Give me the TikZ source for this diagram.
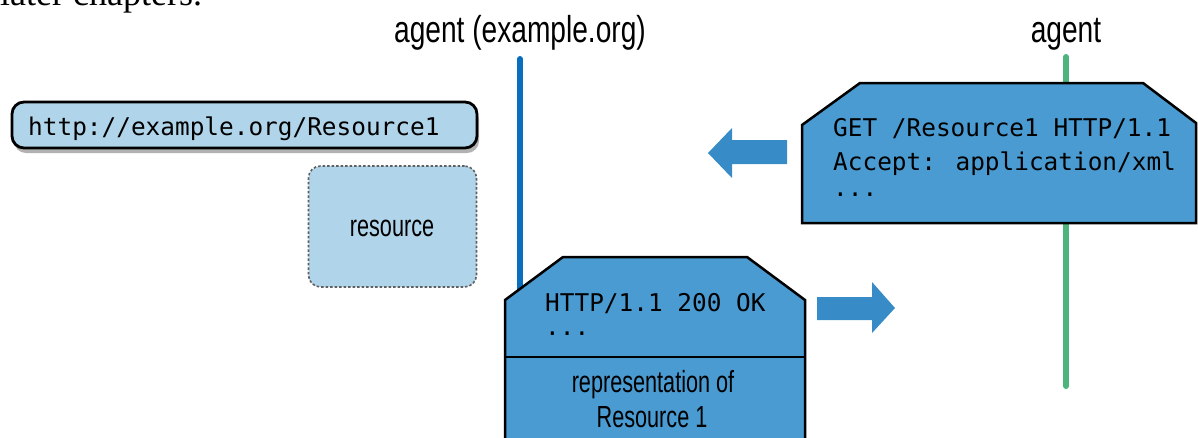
\documentclass[tikz,border=0pt]{standalone}
\usepackage{fontspec}
\setmainfont{Liberation Serif}
\newfontfamily\condlabel[FakeStretch=0.75]{Liberation Sans}
\newfontfamily\condbox[FakeStretch=0.71]{Liberation Sans}
\newfontfamily\monofnt{DejaVu Sans Mono}
\usetikzlibrary{shadows}
\definecolor{boxblue}{RGB}{74,155,209}
\definecolor{arrowblue}{RGB}{55,140,200}
\definecolor{lightblue}{RGB}{176,212,234}
\definecolor{lifeblue}{RGB}{10,110,190}
\definecolor{lifegreen}{RGB}{77,180,125}
\definecolor{dashgray}{RGB}{95,95,95}
\tikzset{
  label/.style={inner sep=0pt, anchor=base, font=\condlabel\fontsize{37.5}{42}\selectfont},
  boxtext/.style={inner sep=0pt, anchor=base, font=\condbox\fontsize{30.5}{36}\selectfont},
  mono/.style={inner sep=0pt, anchor=base west, font=\monofnt\fontsize{24.4}{30}\selectfont},
  msgbox/.style={draw=black, line width=2.5pt, fill=boxblue, line join=miter},
  bigarrow/.style={fill=arrowblue, draw=none},
  lifeline/.style={line width=6pt, line cap=round},
}
\begin{document}
\begin{tikzpicture}[x=1pt,y=-1pt]
\useasboundingbox (0,0) rectangle (1198,437);
\begin{scope}
\clip (0,0) rectangle (1198,437);
% cropped page text
\node[inner sep=0pt, anchor=base west, font=\fontsize{36}{40}\selectfont] (pagetext) at (0,5) {later chapters.};

% lifeline labels
\node[label] (agentA) at (520,42) {agent (example.org)};
\node[label] (agentB) at (1066,42) {agent};
\coordinate (lineAtop) at (520,59);
\coordinate (lineAbot) at (520,292);
\coordinate (lineBtop) at (1066,57);
\coordinate (lineBbot) at (1066,386);
\draw[lifeline, lifeblue] (lineAtop) -- (lineAbot);
\draw[lifeline, lifegreen] (lineBtop) -- (lineBbot);

% URL box
\node[draw=black, line width=2.8pt, fill=lightblue, rounded corners=12pt,
      minimum width=465pt, minimum height=46pt, inner sep=0pt,
      drop shadow={shadow xshift=2pt, shadow yshift=-5pt, opacity=0.3, fill=black}]
      (urlbox) at (244.5,125) {};
\node[mono] (urltext) at (28,135) {http://example.org/Resource1};

% resource box
\node[draw=dashgray, line width=1.6pt, dash pattern=on 2.5pt off 2pt, fill=lightblue,
      rounded corners=12pt, minimum width=168pt, minimum height=121pt, inner sep=0pt]
      (resbox) at (392.5,226.5) {};
\node[boxtext] (restext) at (392,236) {resource};

% request message
\draw[msgbox] (802,125) -- (860,83) -- (1143,83) -- (1196,123) -- (1196,223) -- (802,223) -- cycle;
\node[mono] (req1) at (833,136) {GET /Resource1 HTTP/1.1};
\node[mono] (req2) at (833,170) {Accept: application/xml};
\node[mono] (req3) at (833,196) {...};

% left arrow
\draw[bigarrow] (708,153) -- (732,128) -- (732,140) -- (787,140) -- (787,164) -- (732,164) -- (732,178) -- cycle;

% response message
\draw[msgbox] (505,300) -- (563,257) -- (747,257) -- (805,300) -- (805,450) -- (505,450) -- cycle;
\draw[line width=2.5pt] (505,357) -- (805,357);
\node[mono] (resp1) at (545,311) {HTTP/1.1 200 OK};
\node[mono] (resp2) at (545,335) {...};
\node[boxtext] (repr1) at (653,392) {representation of};
\node[boxtext] (repr2) at (652,427) {Resource 1};

% right arrow
\draw[bigarrow] (895,308) -- (872,282) -- (872,297) -- (817,297) -- (817,320) -- (872,320) -- (872,333) -- cycle;
\end{scope}
\end{tikzpicture}
\end{document}
